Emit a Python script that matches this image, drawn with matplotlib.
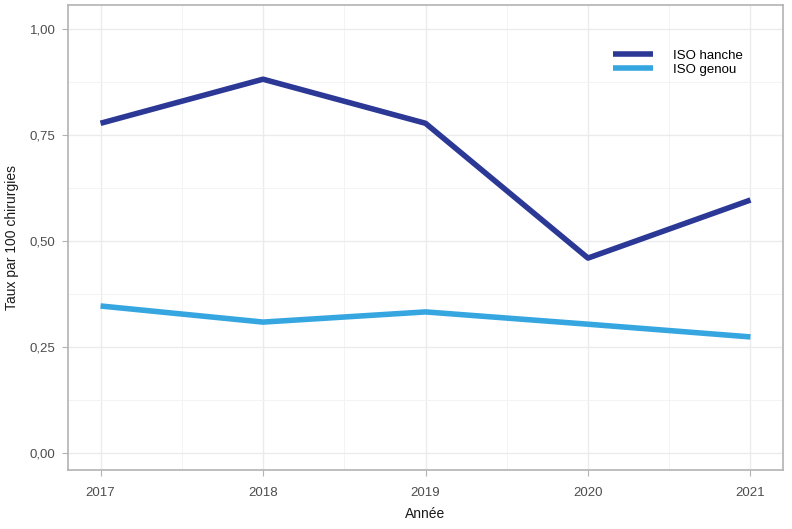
import matplotlib.pyplot as plt
from matplotlib.ticker import FuncFormatter

plt.rcParams["font.family"] = ["Liberation Sans", "DejaVu Sans"]

annees = [2017, 2018, 2019, 2020, 2021]
iso_hanche = [0.778, 0.882, 0.778, 0.460, 0.597]
iso_genou = [0.347, 0.309, 0.333, 0.304, 0.274]

fig = plt.figure(figsize=(7.92, 5.29), dpi=100)
ax = fig.add_axes([0.0859, 0.1115, 0.9027, 0.879])

ax.plot(annees, iso_hanche, color="#2B3896", lw=4, label="ISO hanche", solid_capstyle="butt")
ax.plot(annees, iso_genou, color="#36A6E0", lw=4, label="ISO genou", solid_capstyle="butt")

ax.set_xlim(2016.8, 2021.2)
ax.set_ylim(-0.04, 1.057)
ax.set_xticks(annees)
ax.set_xticks([2017.5, 2018.5, 2019.5, 2020.5], minor=True)
ax.set_yticks([0, 0.25, 0.5, 0.75, 1.0])
ax.set_yticks([0.125, 0.375, 0.625, 0.875], minor=True)
ax.yaxis.set_major_formatter(FuncFormatter(lambda v, p: f"{v:.2f}".replace(".", ",")))

ax.grid(which="major", color="#EBEBEB", lw=1)
ax.grid(which="minor", color="#F3F3F3", lw=0.7)
ax.set_axisbelow(True)
for s in ax.spines.values():
    s.set_color("#B3B3B3")
    s.set_linewidth(1.2)
ax.tick_params(which="major", color="#B3B3B3", length=4, labelsize=9.5, labelcolor="#4D4D4D")
ax.tick_params(axis="x", which="major", pad=8)
ax.tick_params(axis="y", which="major", pad=5)
ax.tick_params(which="minor", length=0)

ax.set_xlabel("Année", fontsize=10, color="#1A1A1A", labelpad=6)
ax.set_ylabel("Taux par 100 chirurgies", fontsize=10, color="#1A1A1A", labelpad=8)

leg = ax.legend(loc="upper right", bbox_to_anchor=(0.96, 0.93), frameon=False,
                fontsize=9.5, handlelength=3.0, handletextpad=1.5, labelspacing=0.15)

fig.savefig("out.png", dpi=100)
